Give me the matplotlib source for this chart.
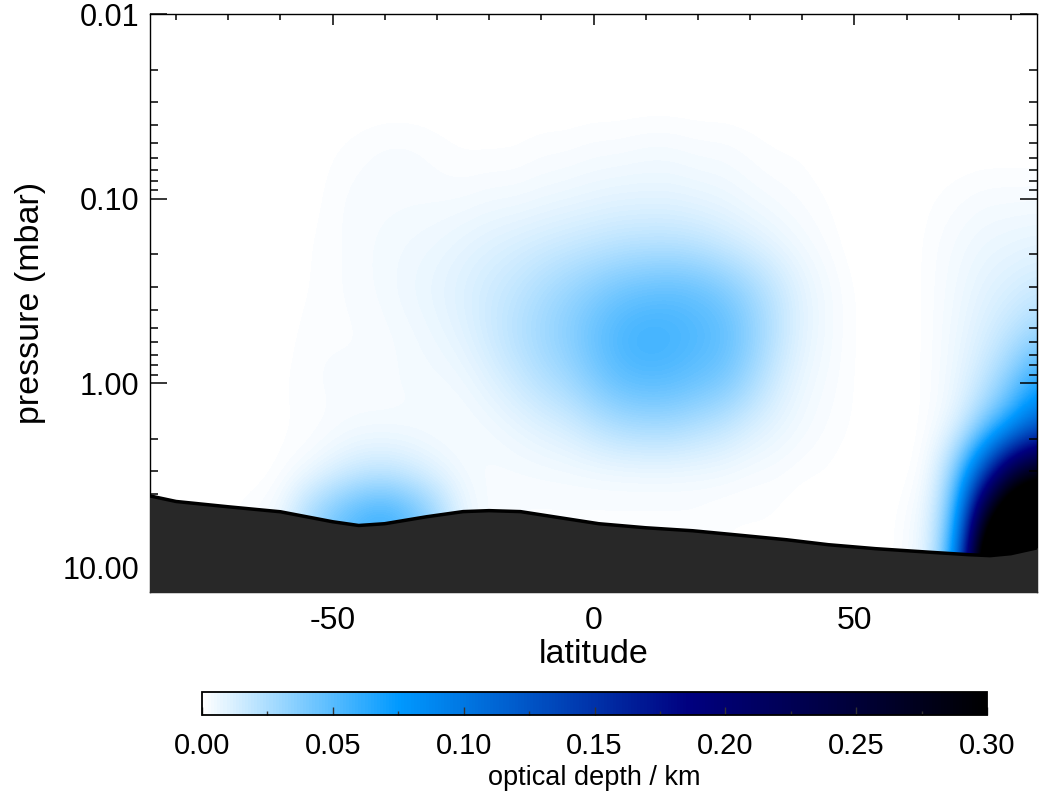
import numpy as np
import matplotlib
matplotlib.use("Agg")
import matplotlib.pyplot as plt
from matplotlib.colors import LinearSegmentedColormap
from matplotlib.ticker import FixedLocator, MultipleLocator, FuncFormatter

plt.rcParams['font.family'] = ['Liberation Sans', 'DejaVu Sans']
plt.rcParams['axes.unicode_minus'] = False

# grid of latitude (deg) and log10 pressure (mbar) at which the field was read
lat_grid = [-85, -80, -75, -70, -65, -60, -55, -50, -45, -40, -35, -30, -25, -20, -15, -10, -5,
            0, 5, 10, 15, 20, 25, 30, 35, 40, 45, 50, 55, 60, 65, 70, 75, 80, 85]
logp_grid = [-2.0, -1.75, -1.5, -1.25, -1.0, -0.75, -0.5, -0.25, 0.0, 0.25, 0.5, 0.75, 1.0, 1.25]

# optical depth per km, in units of 1e-3 km^-1, one row per pressure level (top -> bottom)
tau_milli = [
    [0] * 35,
    [0] * 35,
    [0] * 35,
    [0, 0, 0, 0, 0, 0, 0, 1, 2, 3, 3, 2, 1, 1, 1, 2, 2, 3, 3, 4, 4, 3, 3, 2, 1, 1, 0, 0, 0, 0, 0, 0, 0, 0, 0],
    [0, 0, 0, 0, 0, 0, 0, 2, 3, 3, 3, 3, 3, 4, 4, 5, 6, 7, 8, 8, 8, 7, 6, 4, 3, 2, 1, 0, 0, 0, 1, 2, 3, 3, 3],
    [0, 0, 0, 0, 0, 0, 1, 2, 3, 4, 5, 6, 8, 10, 12, 14, 16, 18, 20, 21, 21, 19, 15, 11, 7, 4, 2, 0, 0, 0, 2, 4, 6, 7, 8],
    [0, 0, 0, 0, 0, 0, 1, 2, 3, 4, 6, 8, 11, 15, 19, 25, 31, 37, 43, 46, 48, 46, 40, 30, 19, 9, 4, 1, 0, 0, 2, 5, 9, 12, 15],
    [0, 0, 0, 0, 0, 0, 2, 2, 2, 3, 4, 6, 9, 15, 22, 29, 36, 46, 55, 59, 57, 53, 49, 36, 21, 9, 4, 1, 0, 0, 2, 6, 12, 20, 30],
    [0, 0, 0, 0, 0, 1, 2, 3, 3, 3, 4, 4, 5, 9, 15, 22, 28, 38, 47, 50, 49, 45, 40, 28, 14, 6, 3, 1, 0, 0, 2, 7, 18, 38, 65],
    [0, 0, 0, 0, 0, 1, 1, 2, 3, 3, 3, 3, 3, 4, 6, 9, 12, 18, 23, 25, 25, 21, 17, 11, 7, 4, 2, 1, 0, 0, 2, 10, 38, 70, 115],
    [0, 0, 0, 0, 0, 1, 4, 10, 16, 18, 14, 8, 4, 3, 3, 3, 3, 3, 3, 3, 3, 3, 3, 2, 2, 1, 1, 0, 0, 0, 5, 45, 140, 260, 310],
    [0, 0, 0, 1, 3, 6, 30, 48, 62, 68, 56, 35, 8, 3, 2, 2, 2, 2, 2, 2, 2, 2, 1, 1, 1, 0, 0, 0, 0, 2, 10, 65, 300, 400, 400],
    [0, 0, 0, 1, 3, 6, 18, 30, 38, 42, 33, 18, 6, 3, 2, 2, 2, 2, 2, 2, 2, 2, 1, 1, 1, 0, 0, 0, 0, 2, 12, 90, 400, 400, 400],
    [0, 0, 0, 1, 3, 6, 18, 30, 38, 42, 33, 18, 6, 3, 2, 2, 2, 2, 2, 2, 2, 2, 1, 1, 1, 0, 0, 0, 0, 2, 12, 90, 400, 400, 400],
]

# surface (bottom boundary)
surf_lat = [-86, -80, -70, -60, -50, -45, -40, -32, -25, -20, -14, -8, 1, 10, 19, 27, 37, 45, 54, 65, 72, 76, 80, 86]
surf_p = [4.03, 4.38, 4.68, 4.98, 5.64, 5.91, 5.78, 5.30, 4.97, 4.91, 4.97, 5.28, 5.78, 6.08, 6.31, 6.63,
          7.06, 7.51, 7.89, 8.27, 8.51, 8.61, 8.40, 7.70]

cbar_ticks = [0.00, 0.05, 0.10, 0.15, 0.20, 0.25, 0.30]

tau = np.array(tau_milli, dtype=float) / 1000.0

cmap = LinearSegmentedColormap.from_list(
    'tau', [(0.0, '#ffffff'), (0.25, '#0099ff'), (0.62, '#000080'), (1.0, '#000000')])
cmap.set_under('#ffffff')
cmap.set_over('#000000')

fig = plt.figure(figsize=(10.39, 7.93), dpi=100)
ax = fig.add_axes([150 / 1039, 1 - 592 / 793, 887 / 1039, 578 / 793])
cax = fig.add_axes([202 / 1039, 1 - 715 / 793, 785 / 1039, 23 / 793])

dl = 2.5
dp = 0.125
im = ax.imshow(tau, cmap=cmap, vmin=0.0, vmax=0.3, origin='upper', aspect='auto',
               interpolation='bicubic', interpolation_stage='data',
               extent=(lat_grid[0] - dl, lat_grid[-1] + dl, logp_grid[-1] + dp, logp_grid[0] - dp))

surf_logp = np.log10(surf_p)
ax.fill_between(surf_lat, surf_logp, 1.3, color='#282828', lw=0, zorder=3)
ax.plot(surf_lat, surf_logp, color='black', lw=2.5, zorder=4)

ax.set_xlim(-85, 85)
ax.set_ylim(1.132, -2.0)

ax.xaxis.set_major_locator(MultipleLocator(50))
ax.xaxis.set_minor_locator(MultipleLocator(10))
ax.yaxis.set_major_locator(FixedLocator([-2, -1, 0, 1]))
ax.yaxis.set_minor_locator(FixedLocator([n + np.log10(k) for n in (-2, -1, 0, 1) for k in range(2, 10)]))
ax.yaxis.set_major_formatter(FuncFormatter(lambda v, _: f"{10.0 ** float(v):.2f}"))

ax.tick_params(which='both', direction='in', top=True, right=True, width=1.1, color='black')
ax.tick_params(axis='x', which='major', length=8, labelsize=23, pad=10)
ax.tick_params(axis='x', which='minor', length=4.3)
ax.tick_params(axis='y', which='major', length=12, labelsize=22, pad=8)
ax.tick_params(axis='y', which='minor', length=6)
for s in ax.spines.values():
    s.set_linewidth(1.0)

ax.set_xlabel('latitude', fontsize=24.5)
ax.set_ylabel('pressure (mbar)', fontsize=24.5)
ax.xaxis.set_label_coords(0.5, -0.108)
ax.xaxis.label.set_va('center')
ax.yaxis.set_label_coords(-0.135, 0.5)
ax.yaxis.label.set_va('center')

cb = fig.colorbar(im, cax=cax, orientation='horizontal', ticks=cbar_ticks, extend='neither')
cb.outline.set_linewidth(1.3)
cax.xaxis.set_major_formatter(FuncFormatter(lambda v, _: f"{v:.2f}"))
cax.xaxis.set_minor_locator(MultipleLocator(0.025))
cax.tick_params(which='both', direction='in', bottom=True, top=False, color='#333333', width=1.0)
cax.tick_params(which='major', length=6, labelsize=21, pad=12)
cax.tick_params(which='minor', length=3)
cb.set_label('optical depth / km', fontsize=19.5)
cax.xaxis.set_label_coords(0.5, -2.75)
cax.xaxis.label.set_va('center')

fig.savefig('out.png', dpi=100)
